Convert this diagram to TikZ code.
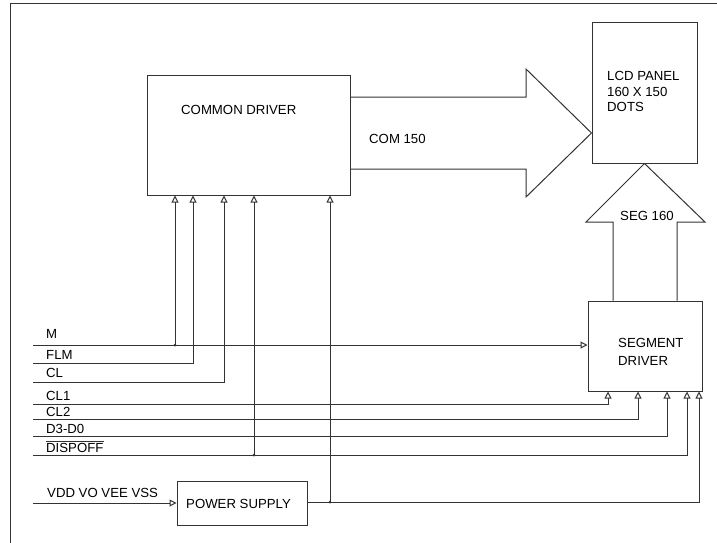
\documentclass[tikz,border=0pt]{standalone}
\usepackage{fontspec}
\setmainfont{Liberation Sans}
\usetikzlibrary{arrows.meta}
\begin{document}
\begin{tikzpicture}[x=1pt,y=-1pt,
  ln/.style={draw=black!80, line width=1pt},
  arr/.style={ln, -{Triangle[open,length=7pt,width=7pt]}},
  box/.style={draw=black!80, line width=1pt, rectangle, inner sep=0pt},
  txt/.style={font=\fontsize{13.2}{15}\selectfont, inner sep=0pt, anchor=west},
  jdot/.style={circle, fill=black!80, inner sep=0pt, minimum size=3pt}]
\useasboundingbox (0,0) rectangle (717,542);
\draw[ln] (10,548) -- (10,3) -- (722,3);
% boxes
\node[box, minimum width=203pt, minimum height=120pt] (cd) at (248.5,135) {};
\node[box, minimum width=105pt, minimum height=141pt] (lcd) at (644.5,92.5) {};
\node[box, minimum width=114pt, minimum height=90pt] (sd) at (645,346) {};
\node[box, minimum width=130pt, minimum height=44pt] (ps) at (242,503) {};
% box texts
\node[txt] (tcd) at (181,110) {COMMON DRIVER};
\node[txt] (tl1) at (607,76) {LCD PANEL};
\node[txt] (tl2) at (607,91.5) {160 X 150};
\node[txt] (tl3) at (607,107) {DOTS};
\node[txt] (ts1) at (618,343) {SEGMENT};
\node[txt] (ts2) at (618,361) {DRIVER};
\node[txt] (tps) at (186,504) {POWER SUPPLY};
% big arrows
\draw[ln, line join=miter] (cd.east |- 0,97) -- (526,97) -- (526,69) -- (lcd.west |- 0,133) -- (526,197) -- (526,169) -- (cd.east |- 0,169);
\node[txt] (tcom) at (369,139) {COM 150};
\draw[ln, line join=miter] (613,0 |- sd.north) -- (613,222) -- (586,222) -- (lcd.south) -- (705,222) -- (677,222) -- (677,0 |- sd.north);
\node[txt] (tseg) at (620,216) {SEG 160};
% signal start points
\coordinate (sM) at (33,345);
\coordinate (sFLM) at (33,363);
\coordinate (sCL) at (33,382);
\coordinate (sCL1) at (33,404);
\coordinate (sCL2) at (33,419);
\coordinate (sD) at (33,436);
\coordinate (sDIS) at (33,455);
\coordinate (sV) at (33,503);
% labels
\node[txt] (lM) at (46,334) {M};
\node[txt] (lFLM) at (46,355) {FLM};
\node[txt] (lCL) at (46,373) {CL};
\node[txt] (lCL1) at (46,396) {CL1};
\node[txt] (lCL2) at (46,412) {CL2};
\node[txt] (lD) at (46,429) {D3-D0};
\node[txt] (lDIS) at (46,448) {DISPOFF};
\coordinate (ovA) at (46,441.5);
\draw[ln, line width=0.9pt] (ovA) -- (ovA -| lDIS.east);
\node[txt] (lV) at (47,493) {VDD VO VEE VSS};
% junction coordinates
\coordinate (jM) at (175,345);
\coordinate (cFLM) at (193,363);
\coordinate (cCL) at (224,382);
\coordinate (jDIS) at (254,455);
\coordinate (jPS) at (330,502);
\coordinate (cPS) at (699,502);
% M
\draw[arr] (sM) -- (sM -| sd.west);
\draw[arr] (jM) -- (jM |- cd.south);
\node[jdot] (dM) at (jM) {};
% FLM, CL
\draw[arr] (sFLM) -- (cFLM) -- (cFLM |- cd.south);
\draw[arr] (sCL) -- (cCL) -- (cCL |- cd.south);
% segment driver inputs
\coordinate (cCL1) at (608,404);
\coordinate (cCL2) at (638,419);
\coordinate (cD) at (667,436);
\coordinate (cDIS) at (687,455);
\draw[arr] (sCL1) -- (cCL1) -- (cCL1 |- sd.south);
\draw[arr] (sCL2) -- (cCL2) -- (cCL2 |- sd.south);
\draw[arr] (sD) -- (cD) -- (cD |- sd.south);
\draw[arr] (sDIS) -- (cDIS) -- (cDIS |- sd.south);
\draw[arr] (jDIS) -- (jDIS |- cd.south);
\node[jdot] (dDIS) at (jDIS) {};
% power
\draw[arr] (sV) -- (ps.west);
\draw[arr] (ps.east |- jPS) -- (cPS) -- (cPS |- sd.south);
\draw[arr] (jPS) -- (jPS |- cd.south);
\node[jdot] (dPS) at (jPS) {};
\end{tikzpicture}
\end{document}
